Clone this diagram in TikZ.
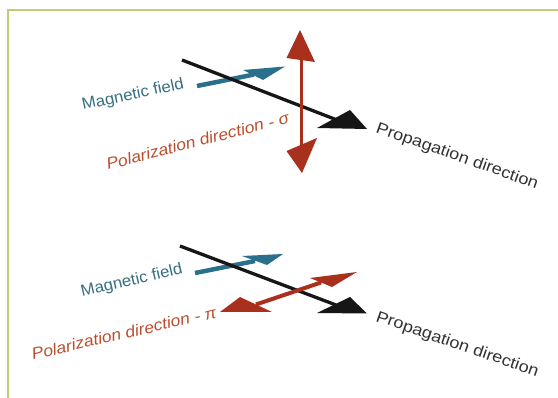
\documentclass[tikz,border=0pt]{standalone}
\usepackage{fontspec}
\setmainfont{Liberation Sans}
\definecolor{framegreen}{RGB}{190,206,120}
\definecolor{mblue}{RGB}{42,112,140}
\definecolor{mbluetext}{RGB}{55,110,132}
\definecolor{pred}{RGB}{168,48,28}
\definecolor{predtext}{RGB}{188,78,46}
\definecolor{pblack}{RGB}{22,22,22}
\definecolor{proptext}{RGB}{50,50,50}
\begin{document}
\begin{tikzpicture}[x=1pt,y=-1pt,
  frameline/.style={draw=framegreen,line width=1.3pt},
  bshaft/.style={draw=pblack,line width=3.3pt},
  blueshaft/.style={draw=mblue,line width=4.5pt},
  redshaft/.style={draw=pred,line width=3.5pt},
  bhead/.style={fill=pblack},
  bluehead/.style={fill=mblue},
  redhead/.style={fill=pred},
  lbl/.style={inner sep=0pt,anchor=base west,font=\fontsize{16}{18}\selectfont},
  maglbl/.style={lbl,text=mbluetext},
  pollbl/.style={lbl,text=predtext,font=\fontsize{16}{18}\selectfont\itshape},
  proplbl/.style={lbl,text=proptext}]
\useasboundingbox (0,0) rectangle (558,398);
\fill[white] (0,0) rectangle (558,398);
\draw[frameline] (8,398) -- (8,10) -- (558,10);

% ---------- top: sigma ----------
\coordinate (mA1) at (197,86);
\coordinate (mB1) at (254,74.5);
\draw[blueshaft] (mA1) -- (mB1);
\fill[bluehead] (243,70) -- (285,66.5) -- (263,80) -- cycle;

\coordinate (kA1) at (182,60);
\coordinate (kB1) at (337,120);
\draw[bshaft] (kA1) -- (kB1);
\fill[bhead] (317,128) -- (367,129) -- (350,110) -- cycle;

\coordinate (sA) at (301.5,58);
\coordinate (sB) at (301.5,150);
\draw[redshaft] (sA) -- (sB);
\fill[redhead] (300,30) -- (286.5,58) -- (315,62) -- cycle;
\fill[redhead] (286.5,151) -- (317,138) -- (302,173) -- cycle;

\node[maglbl,rotate=12] (mag1) at (83,110) {\scalebox{1.05}[1]{Magnetic field}};
\node[pollbl,rotate=14.5] (pol1) at (108,170) {\scalebox{1.09}[1]{Polarization direction - σ}};
\node[proplbl,rotate=-19.5] (prop1) at (375,132) {\scalebox{1.13}[1]{Propagation direction}};

% ---------- bottom: pi ----------
\coordinate (mA2) at (195,273);
\coordinate (mB2) at (255,261);
\draw[blueshaft] (mA2) -- (mB2);
\fill[bluehead] (242,256) -- (283,254) -- (267,265) -- cycle;

\coordinate (kA2) at (180,246);
\coordinate (kB2) at (336,305);
\draw[bshaft] (kA2) -- (kB2);
\fill[bhead] (317,313) -- (367,313.5) -- (350,297) -- cycle;

\coordinate (pA) at (256,304.5);
\coordinate (pB) at (321,282.5);
\draw[redshaft,line width=4pt] (pA) -- (pB);
\fill[redhead] (220,312) -- (240,297) -- (272,312) -- cycle;
\fill[redhead] (357,272) -- (310,278) -- (332,287) -- cycle;

\node[maglbl,rotate=13] (mag2) at (82,297) {\scalebox{1.05}[1]{Magnetic field}};
\node[pollbl,rotate=13] (pol2) at (33,360) {\scalebox{1.09}[1]{Polarization direction - π}};
\node[proplbl,rotate=-19] (prop2) at (375,321) {\scalebox{1.13}[1]{Propagation direction}};
\end{tikzpicture}
\end{document}
